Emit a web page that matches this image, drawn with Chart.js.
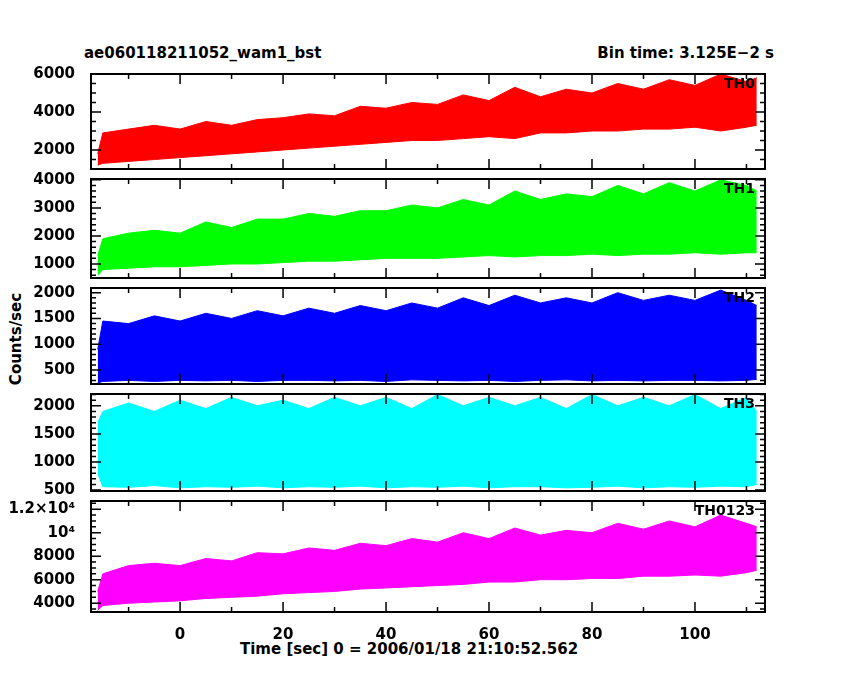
<!DOCTYPE html>
<html><head><meta charset="utf-8">
<script src="https://cdn.jsdelivr.net/npm/chart.js@4"></script>
<style>
body{margin:0;background:#fff;width:850px;height:680px;position:relative;overflow:hidden;font-family:"DejaVu Sans",sans-serif;font-weight:bold;}
canvas{position:absolute;left:0;}
.t{position:absolute;font-size:15px;white-space:nowrap;color:#000;}
</style></head><body>
<div class="t" style="left:84px;top:44px;">ae060118211052_wam1_bst</div>
<div class="t" style="right:76px;top:44px;">Bin time: 3.125E−2 s</div>
<div class="t" style="left:-30px;top:330px;transform:rotate(-90deg);">Counts/sec</div>
<div class="t" style="left:240px;top:640px;">Time [sec] 0 = 2006/01/18 21:10:52.562</div>
<script>
const times = [-16,-15,-10,-5,0,5,10,15,20,25,30,35,40,45,50,55,60,65,70,75,80,85,90,95,100,105,110,112];
const th0Upper = [1800,2900,3100,3300,3100,3500,3300,3600,3700,3900,3800,4300,4200,4500,4400,4900,4600,5300,4800,5200,5000,5500,5200,5700,5400,6000,5600,5800];
const th0Lower = [1200,1300,1400,1500,1600,1700,1800,1900,2000,2100,2200,2300,2400,2500,2500,2600,2700,2600,2900,2900,3000,3000,3100,3100,3200,3000,3200,3300];
const th1Upper = [1300,1900,2100,2200,2100,2500,2300,2600,2600,2800,2700,2900,2900,3100,3000,3300,3100,3600,3300,3500,3400,3800,3500,3900,3600,4000,3800,3600];
const th1Lower = [600,800,850,900,900,950,1000,1000,1050,1100,1100,1150,1200,1200,1200,1250,1300,1250,1300,1300,1350,1300,1350,1350,1400,1350,1400,1400];
const th2Upper = [900,1450,1400,1550,1450,1600,1500,1650,1550,1700,1600,1750,1650,1800,1700,1900,1750,1950,1800,1900,1800,2000,1850,1950,1850,2050,1850,1750];
const th2Lower = [250,280,300,280,300,290,300,280,300,300,290,300,280,310,300,290,300,280,300,310,290,300,290,300,300,290,300,320];
const th3Upper = [1700,1900,2050,1900,2100,1950,2150,2000,2100,1950,2150,2000,2150,1950,2200,2000,2150,2000,2150,1950,2200,2000,2150,2000,2200,1950,2150,1900];
const th3Lower = [800,560,550,580,540,560,550,570,540,560,550,570,540,560,550,570,540,560,560,540,550,570,540,560,550,570,560,600];
const th0123Upper = [5000,6500,7200,7400,7200,7800,7600,8300,8200,8700,8500,9100,8900,9500,9200,10000,9500,10400,9800,10200,10000,10800,10300,11000,10500,11500,10800,10500];
const th0123Lower = [3400,3800,4000,4100,4200,4400,4500,4600,4800,4900,5000,5200,5300,5400,5500,5600,5800,5800,6000,6000,6100,6100,6300,6300,6400,6300,6600,6800];

const panels = [
 {name:'TH0', up:th0Upper, lo:th0Lower, color:'#ff0000', top:73, bot:178, min:1000, max:6000, ticks:[2000,4000,6000], minor:500},
 {name:'TH1', up:th1Upper, lo:th1Lower, color:'#00ff00', top:178, bot:287, min:500, max:4030, ticks:[1000,2000,3000,4000], minor:200},
 {name:'TH2', up:th2Upper, lo:th2Lower, color:'#0000ff', top:287, bot:393, min:230, max:2090, ticks:[500,1000,1500,2000], minor:100},
 {name:'TH3', up:th3Upper, lo:th3Lower, color:'#00ffff', top:393, bot:500, min:484, max:2210, ticks:[500,1000,1500,2000], minor:100},
 {name:'TH0123', up:th0123Upper, lo:th0123Lower, color:'#ff00ff', top:500, bot:612, min:3250, max:12700, ticks:[4000,6000,8000,10000,12000], minor:500}
];
const xMin=-17.3, xMax=113.6;
const fontSpec={family:'DejaVu Sans',size:15,weight:'bold'};

const inward = {
  id:'inward',
  afterDraw(chart, args, o){
    const {ctx, chartArea:a, scales:{x,y}} = chart;
    ctx.save(); ctx.strokeStyle='#000'; ctx.lineWidth=2;
    ctx.strokeRect(a.left,a.top,a.right-a.left,a.bottom-a.top);
    ctx.lineWidth=1.5; ctx.beginPath();
    const p=o.p;
    for(let v=Math.ceil(p.min/p.minor)*p.minor; v<=p.max; v+=p.minor){
      const py=y.getPixelForValue(v); const L=p.ticks.includes(v)?10:5;
      ctx.moveTo(a.left,py);ctx.lineTo(a.left+L,py);ctx.moveTo(a.right,py);ctx.lineTo(a.right-L,py);
    }
    for(let v=-10; v<=xMax; v+=10){
      const px=x.getPixelForValue(v); const L=(v%20===0)?10:5;
      ctx.moveTo(px,a.bottom);ctx.lineTo(px,a.bottom-L);ctx.moveTo(px,a.top);ctx.lineTo(px,a.top+L);
    }
    ctx.stroke();
    ctx.fillStyle='#000'; ctx.font='bold 14px "DejaVu Sans"'; ctx.textAlign='right'; ctx.textBaseline='top';
    ctx.fillText(p.name,a.right-10,a.top+3);
    ctx.restore();
  }
};

panels.forEach((p,i)=>{
  const last = i===panels.length-1;
  const cv=document.createElement('canvas');
  const ctop=p.top-16;
  const h = last ? 680-ctop : (p.bot-p.top)+24;
  cv.style.top=ctop+'px'; cv.style.width='850px'; cv.style.height=h+'px';
  cv.width=850; cv.height=h;
  document.body.appendChild(cv);
  const xAxisH=28;
  new Chart(cv,{
    type:'line',
    data:{labels:times, datasets:[
      {data:p.lo.map((v,k)=>({x:times[k],y:v})), borderColor:p.color, borderWidth:1, pointRadius:0, fill:false, tension:0},
      {data:p.up.map((v,k)=>({x:times[k],y:v})), borderColor:p.color, backgroundColor:p.color, borderWidth:1, pointRadius:0, fill:'-1', tension:0}
    ]},
    options:{
      responsive:false, maintainAspectRatio:false, animation:false, devicePixelRatio:1,
      layout:{padding:{top:12, right:85, left:0, bottom: last ? (h-16-(p.bot-p.top)-xAxisH) : 8}},
      plugins:{legend:{display:false}, tooltip:{enabled:false}, inward:{p}},
      scales:{
        x:{type:'linear', min:xMin, max:xMax, display:last,
           afterBuildTicks:s=>{s.ticks=[0,20,40,60,80,100].map(v=>({value:v}));},
           afterFit:s=>{s.height= last ? xAxisH : 0;},
           grid:{display:false}, border:{display:false},
           ticks:{color:'#000', font:fontSpec, padding:6, maxRotation:0}},
        y:{min:p.min, max:p.max,
           afterBuildTicks:s=>{s.ticks=p.ticks.map(v=>({value:v}));},
           afterFit:s=>{s.width=91;},
           grid:{display:false}, border:{display:false},
           ticks:{color:'#000', font:fontSpec, padding:8,
             callback:v=> v===12000?'1.2×10⁴':(v===10000 && p.name==='TH0123'?'10⁴':String(v))}}
      }
    },
    plugins:[inward]
  });
});
</script>
</body></html>
